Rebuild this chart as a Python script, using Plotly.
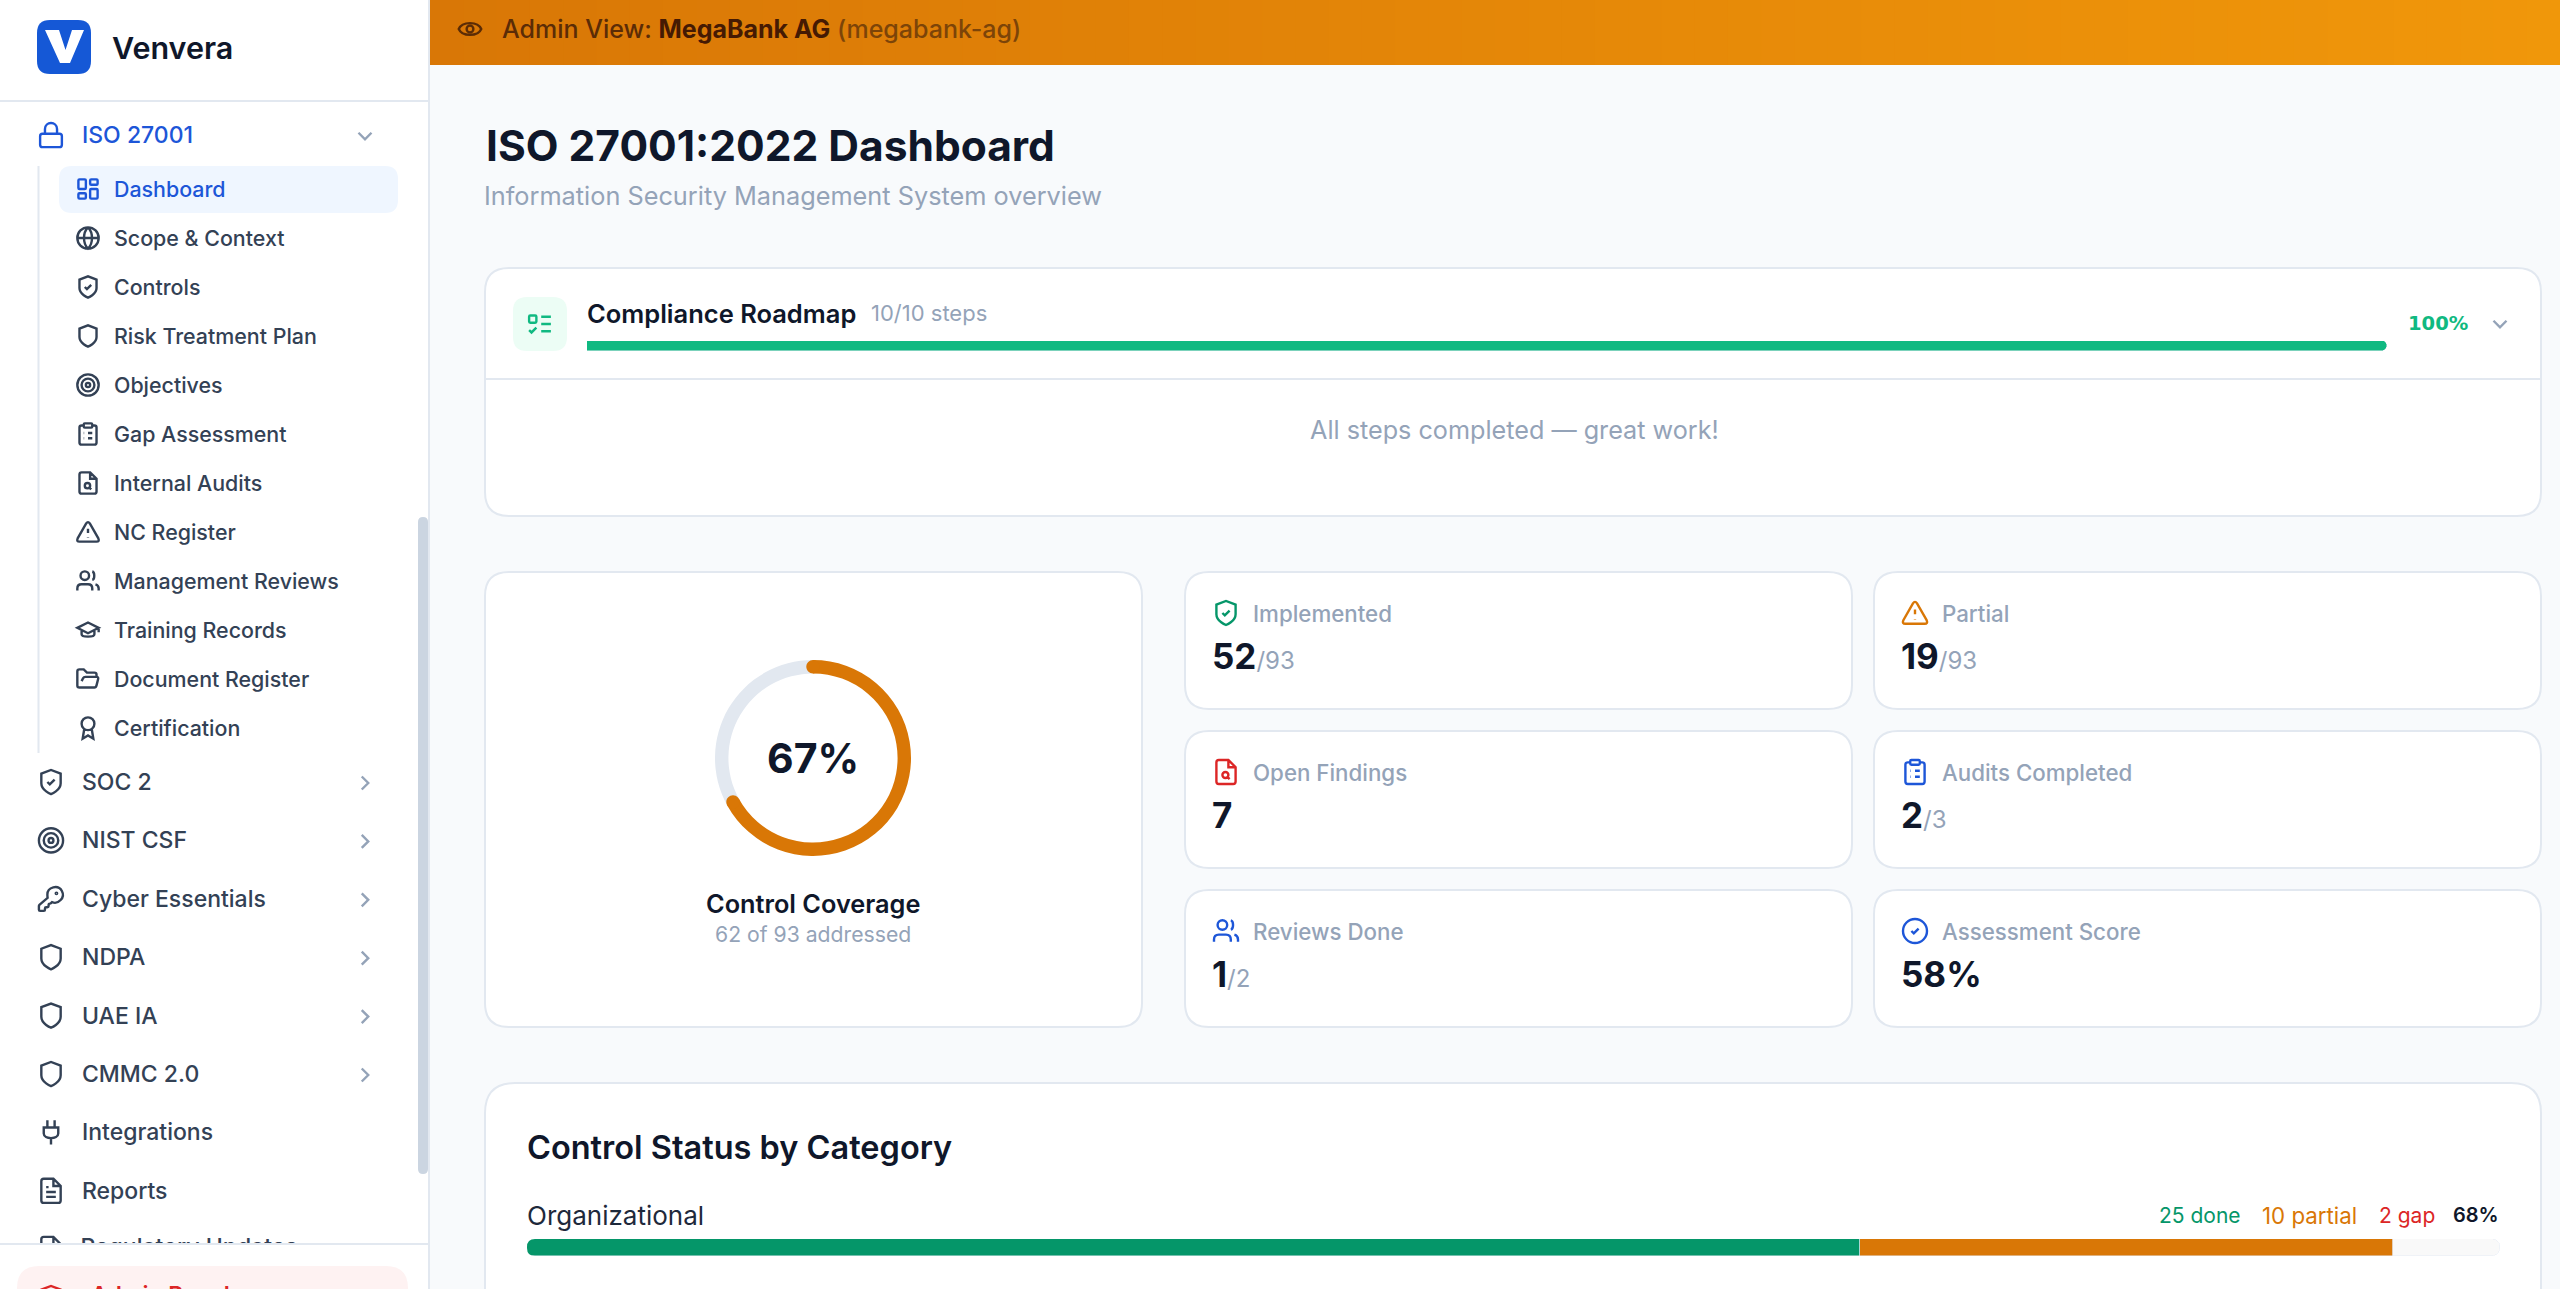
import math
import re
import plotly.graph_objects as go

# values
coverage_labels = ["Addressed", "Remaining"]
coverage_values = [67, 33]
roadmap_percent = [100]
category_name = ["Organizational"]
category_done = [25]
category_partial = [10]
category_gap = [2]

sub_nav = ["Dashboard", "Scope & Context", "Controls", "Risk Treatment Plan", "Objectives", "Gap Assessment",
           "Internal Audits", "NC Register", "Management Reviews", "Training Records", "Document Register", "Certification"]
sub_nav_icons = ["grid", "globe", "shield_check", "shield", "target", "clipboard", "file_search", "alert", "users",
                 "cap", "folder", "award"]
top_nav = ["SOC 2", "NIST CSF", "Cyber Essentials", "NDPA", "UAE IA", "CMMC 2.0", "Integrations", "Reports"]
top_nav_icons = ["shield_check", "target", "key", "shield", "shield", "shield", "plug", "file_text"]
top_nav_chevrons = [True, True, True, True, True, True, False, False]

stat_labels = ["Implemented", "Partial", "Open Findings", "Audits Completed", "Reviews Done", "Assessment Score"]
stat_values = ["52", "19", "7", "2", "1", "58%"]
stat_totals = ["/93", "/93", "", "/3", "/2", ""]
stat_icons = ["shield_check", "alert", "file_search", "clipboard", "users", "circle_check"]

FONT = "Inter"
INK = "#0F172A"
MUTED = "#94A3B8"
SLATE = "#334155"
BLUE = "#1D56D8"
BORDER = "#E2E8F0"
GREEN = "#059669"
EMERALD = "#10B981"
ORANGE = "#D97706"
RED = "#DC2626"
W, H = 2560, 1289


def circle(cx, cy, r):
    k = r * 0.5523
    return (f"M{cx - r} {cy} C{cx - r} {cy - k} {cx - k} {cy - r} {cx} {cy - r} "
            f"C{cx + k} {cy - r} {cx + r} {cy - k} {cx + r} {cy} "
            f"C{cx + r} {cy + k} {cx + k} {cy + r} {cx} {cy + r} "
            f"C{cx - k} {cy + r} {cx - r} {cy + k} {cx - r} {cy} Z")


def rrect(x0, y0, x1, y1, r):
    return (f"M{x0 + r} {y0} L{x1 - r} {y0} Q{x1} {y0} {x1} {y0 + r} L{x1} {y1 - r} Q{x1} {y1} {x1 - r} {y1} "
            f"L{x0 + r} {y1} Q{x0} {y1} {x0} {y1 - r} L{x0} {y0 + r} Q{x0} {y0} {x0 + r} {y0} Z")


DOC = "M14 2 L6 2 Q4 2 4 4 L4 20 Q4 22 6 22 L18 22 Q20 22 20 20 L20 8 Z M14 2 L14 8 L20 8"
SHIELD = "M12 22 C12 22 20 19 20 13 L20 5 L12 2 L4 5 L4 13 C4 19 12 22 12 22 Z"
ICONS = {
    "lock": rrect(3, 11, 21, 22, 2) + " M7 11 L7 7 C7 0.5 17 0.5 17 7 L17 11",
    "grid": " ".join([rrect(3, 3, 10, 12, 1), rrect(14, 3, 21, 8, 1), rrect(14, 12, 21, 21, 1), rrect(3, 16, 10, 21, 1)]),
    "globe": circle(12, 12, 10) + " M2 12 L22 12 M12 2 C17 7 17 17 12 22 C7 17 7 7 12 2",
    "shield": SHIELD,
    "shield_check": SHIELD + " M9 12 L11 14 L15 10",
    "target": circle(12, 12, 10) + " " + circle(12, 12, 6) + " " + circle(12, 12, 2),
    "clipboard": rrect(8, 2, 16, 6, 1) + " M16 4 L18 4 Q20 4 20 6 L20 20 Q20 22 18 22 L6 22 Q4 22 4 20 L4 6 Q4 4 6 4 L8 4"
                 " M12 11 L16 11 M12 16 L16 16 M8 11 L8.4 11 M8 16 L8.4 16",
    "file_search": DOC + " " + circle(11.5, 14.5, 2.5) + " M13.3 16.3 L15 18",
    "file_text": DOC + " M16 13 L8 13 M16 17 L8 17 M10 9 L8 9",
    "alert": "M21.7 18 L13.7 4 Q12 1.5 10.3 4 L2.3 18 Q1 21 4 21 L20 21 Q23 21 21.7 18 Z M12 9 L12 13 M12 17 L12 17.4",
    "users": circle(9, 7, 4) + " M16 21 L16 19 Q16 15 12 15 L6 15 Q2 15 2 19 L2 21 M16 3.1 C18.5 3.7 18.5 10.3 16 10.9"
             " M22 21 L22 19 Q22 16 19 15.1",
    "cap": "M22 10 L12 5 L2 10 L12 15 Z M6 12 L6 16 C6 19 18 19 18 16 L18 12 M22 10 L22 14",
    "folder": "M6 14 L7.5 11 Q8 10 9.5 10 L20 10 Q22 10 21.5 12 L20 18 Q19.5 20 18 20 L4 20 Q2 20 2 18 L2 5 Q2 3 4 3 L8 3 L11 6"
              " L18 6 Q20 6 20 8 L20 10",
    "award": circle(12, 8, 6) + " M15.5 13 L17 22 L12 19 L7 22 L8.5 13",
    "key": "M2 18 L2 21 Q2 22 3 22 L6 22 Q7 22 7 21 L7 20 Q7 19 8 19 L9 19 Q10 19 10 18 L10 17 Q10 16 11 16 L11.2 16"
           " Q11.6 16 12 15.6 L12.8 14.8 C18 17 24 11 21 5.5 C18 0 9 2 9 8.5 Q9 9.8 9.2 11.2 L2.4 17 Q2 17.4 2 18 Z "
           + circle(16.5, 7.5, 0.6),
    "plug": "M12 22 L12 17 M9 8 L9 2 M15 8 L15 2 M18 8 L18 13 C18 18 6 18 6 13 L6 8 Z",
    "eye": "M2 12 C5 5 19 5 22 12 C19 19 5 19 2 12 Z " + circle(12, 12, 3),
    "todo": rrect(3, 5, 9, 11, 1) + " M3 17 L5 19 L9 15 M13 6 L21 6 M13 12 L21 12 M13 18 L21 18",
    "circle_check": circle(12, 12, 10) + " M9 12 L11 14 L15 10",
    "down": "M6 9 L12 15 L18 9",
    "right": "M9 6 L15 12 L9 18",
}

shapes = []
annotations = []


def panel(path, fill, line=None, width=0, layer="below"):
    shapes.append(dict(type="path", path=path, xref="x", yref="y", fillcolor=fill, layer=layer,
                       line=dict(color=line or fill, width=width)))


def card(x0, y0, x1, y1, r=24):
    panel(rrect(x0, y0, x1, y1, r), "#FFFFFF", BORDER, 2)


def icon(name, cx, cy, size, color, width=2.4, layer="below"):
    s = size / 24
    out = []
    for tok in re.findall(r"[A-Za-z]|-?[\d.]+", ICONS[name]):
        if tok.isalpha():
            out.append(tok)
            is_x = True
        else:
            v = float(tok)
            out.append(f"{(cx + (v - 12) * s if is_x else cy + (v - 12) * s):.2f}")
            is_x = not is_x
    shapes.append(dict(type="path", path=" ".join(out), xref="x", yref="y", layer=layer,
                       line=dict(color=color, width=width)))


def label(x, y, text, size, color, weight=400, anchor="left", family=FONT, vanchor="middle"):
    annotations.append(dict(x=x, y=y, xref="x", yref="y", text=text, showarrow=False, xanchor=anchor, yanchor=vanchor,
                            borderpad=0, font=dict(family=family, size=size, color=color, weight=weight)))


# sidebar
panel(f"M0 0 L428 0 L428 {H} L0 {H} Z", "#FFFFFF")
shapes.append(dict(type="line", x0=429, x1=429, y0=0, y1=H, xref="x", yref="y", layer="below", line=dict(color=BORDER, width=2)))
shapes.append(dict(type="line", x0=0, x1=428, y0=101, y1=101, xref="x", yref="y", layer="below", line=dict(color=BORDER, width=2)))
panel(rrect(37, 20, 91, 74, 13), "#1558D6")
panel("M45 30 L59 30 L65.5 50 L72 30 L84 30 L70 63 L60 63 Z", "#FFFFFF")
label(110.5, 47, "Venvera", 30.5, INK, 600)

icon("lock", 51, 135, 29, BLUE)
label(80.5, 135, "ISO 27001", 23, BLUE, 500)
icon("down", 365, 136, 26, MUTED)
shapes.append(dict(type="line", x0=38.5, x1=38.5, y0=166, y1=753, xref="x", yref="y", layer="below", line=dict(color=BORDER, width=2)))
panel(rrect(59, 166, 398, 213, 13), "#EFF6FF")
for i, (name, ic) in enumerate(zip(sub_nav, sub_nav_icons)):
    y = 189 + i * 49
    active = i == 0
    icon(ic, 88, y, 25.6, BLUE if active else SLATE)
    label(112.5, y, name, 21.4, BLUE if active else SLATE, 500)
for i, (name, ic, chev) in enumerate(zip(top_nav, top_nav_icons, top_nav_chevrons)):
    y = 782 + i * 58.4
    icon(ic, 51, y, 29, SLATE)
    label(80.5, y, name, 23, SLATE, 500)
    if chev:
        icon("right", 365, y + 1, 26, MUTED)
icon("file_text", 51, 1249, 29, SLATE)
panel(rrect(418, 517, 428, 1174, 5), "#CBD5E1")

# sidebar footer sits over the cut off nav row
panel(f"M0 1244 L428 1244 L428 {H} L0 {H} Z", "#FFFFFF", layer="above")
shapes.append(dict(type="line", x0=0, x1=428, y0=1244, y1=1244, xref="x", yref="y", layer="above", line=dict(color=BORDER, width=2)))
panel(rrect(17, 1266, 408, 1320, 22), "#FEF2F2", layer="above")
icon("shield", 51, 1298, 29, RED, layer="above")
label(90, 1280, "Admin Panel", 23, RED, 600, vanchor="top")

# banner
steps = 64
for i in range(steps):
    t = i / (steps - 1)
    c = (round(217 + 23 * t), round(119 + 32 * t), round(6 + 4 * t))
    x0 = 430 + i * (W - 430) / steps
    x1 = 430 + (i + 1) * (W - 430) / steps + 1
    panel(f"M{x0} 0 L{x1} 0 L{x1} 65 L{x0} 65 Z", f"rgb{c}")
icon("eye", 470, 29, 27, "#5B2C06")
label(500.5, 29, '<span style="color:#5B2C06">Admin View: </span><b style="color:#451A03">MegaBank AG</b>'
      ' <span style="color:#7C4408">(megabank-ag)</span>', 25, "#5B2C06", 500)

# page header
label(484.5, 145, "ISO 27001:2022 Dashboard", 42.5, INK, 700)
label(483, 195.5, "Information Security Management System overview", 25.3, MUTED, 400)

# roadmap card
card(485, 268, 2541, 516)
shapes.append(dict(type="line", x0=486, x1=2540, y0=379, y1=379, xref="x", yref="y", layer="below", line=dict(color=BORDER, width=2)))
panel(rrect(513, 297, 567, 351, 14), "#ECFDF5")
icon("todo", 540, 324, 29, EMERALD)
label(586, 313, "Compliance Roadmap", 25.5, INK, 600)
label(870, 313, "10/10 steps", 22, MUTED, 400)
label(2407, 323, "100%", 19.5, EMERALD, 700, family="DejaVu Sans")
icon("down", 2500, 324, 26, MUTED)
label(1514, 430, "All steps completed — great work!", 25.2, MUTED, 400, "center")

# coverage card
card(485, 572, 1142, 1027)
label(813, 758, "67%", 41, INK, 700, "center")
label(813, 903, "Control Coverage", 25.3, INK, 600, "center")
label(813, 934, "62 of 93 addressed", 21.2, MUTED, 400, "center")

# stat cards
for i in range(6):
    col, row = i % 2, i // 2
    x0 = 1185 if col == 0 else 1874
    x1 = 1852 if col == 0 else 2541
    y0 = 572 + row * 159
    card(x0, y0, x1, y0 + 137)
    tint = [GREEN, ORANGE, RED, BLUE, BLUE, BLUE][i]
    icon(stat_icons[i], x0 + 41, y0 + 41, 28.8, tint)
    label(x0 + 67, y0 + 41, stat_labels[i], 22.3, MUTED, 500)
    total = f'<span style="font-size:24px;color:{MUTED};font-weight:400">{stat_totals[i]}</span>' if stat_totals[i] else ""
    label(x0 + 26, y0 + 84, f"<b>{stat_values[i]}</b>{total}", 35, INK, 700)

# category card
card(485, 1083, 2541, 1400, 30)
label(525.5, 1147, "Control Status by Category", 32.5, INK, 600)
label(525.5, 1215, category_name[0], 26, "#1E293B", 400)
label(2158, 1215, f"{category_done[0]} done", 21, GREEN, 400)
label(2261, 1215, f"{category_partial[0]} partial", 22.3, ORANGE, 400)
label(2378, 1215, f"{category_gap[0]} gap", 21, RED, 400)
label(2500, 1215, "68%", 20, INK, 600, "right")

fig = go.Figure()
# cut off nav row, clipped by the footer shape above
fig.add_trace(go.Scatter(x=[80.5], y=[1249], mode="text", text=["Regulatory Updates"], textposition="middle right",
                         textfont=dict(family=FONT, size=23, color=SLATE, weight=500), hoverinfo="skip",
                         showlegend=False, xaxis="x", yaxis="y"))

# roadmap progress
fig.add_trace(go.Bar(x=roadmap_percent, y=["Roadmap"], orientation="h", marker=dict(color=EMERALD, cornerradius=5),
                     hoverinfo="skip", showlegend=False, xaxis="x2", yaxis="y2"))

# stacked category bar
for vals, color, name in [(category_done, GREEN, "done"), (category_partial, ORANGE, "partial"), (category_gap, "#F9F9F9", "gap")]:
    fig.add_trace(go.Bar(x=vals, y=category_name, orientation="h", name=name, marker=dict(color=color, cornerradius=8),
                         hoverinfo="skip", showlegend=False, xaxis="x3", yaxis="y3"))

# stack rounding only reaches the far end, so mask the near corners
for y_edge, y_in in [(1239, 1247), (1256, 1248)]:
    panel(f"M527 {y_edge} L535 {y_edge} Q527 {y_edge} 527 {y_in} Z", "#FFFFFF", layer="above")

# coverage ring
fig.add_trace(go.Pie(labels=coverage_labels, values=coverage_values, hole=0.863, sort=False, direction="clockwise",
                     rotation=0, marker=dict(colors=[ORANGE, BORDER], line=dict(width=0)), textinfo="none",
                     hoverinfo="skip", showlegend=False,
                     domain=dict(x=[(813 - 98) / W, (813 + 98) / W], y=[1 - (758 + 98) / H, 1 - (758 - 98) / H])))

# round ends of the ring arc
end_angle = math.radians(360 * coverage_values[0] / sum(coverage_values))
for a in (0, end_angle):
    cx, cy = 813 + 91.3 * math.sin(a), 758 - 91.3 * math.cos(a)
    panel(circle(cx, cy, 6.7), ORANGE, layer="above")

hidden = dict(visible=False, fixedrange=True)
fig.update_layout(
    width=W, height=H, margin=dict(l=0, r=0, t=0, b=0), paper_bgcolor="#F8FAFC", plot_bgcolor="rgba(0,0,0,0)",
    barmode="stack", bargap=0, shapes=shapes, annotations=annotations, showlegend=False,
    xaxis=dict(range=[0, W], domain=[0, 1], **hidden),
    yaxis=dict(range=[H, 0], domain=[0, 1], **hidden),
    xaxis2=dict(range=[0, 100], domain=[587 / W, 2387 / W], anchor="y2", **hidden),
    yaxis2=dict(domain=[1 - 351 / H, 1 - 341 / H], anchor="x2", **hidden),
    xaxis3=dict(range=[0, sum(category_done + category_partial + category_gap)], domain=[527 / W, 2500 / W], anchor="y3", **hidden),
    yaxis3=dict(domain=[1 - 1256 / H, 1 - 1239 / H], anchor="x3", **hidden),
)

fig.write_html("out.html", config={"displayModeBar": False},
               post_script="document.body.style.margin='0';document.body.style.overflow='hidden';")
